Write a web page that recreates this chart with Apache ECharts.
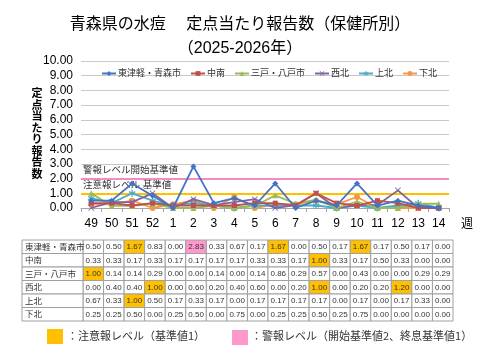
<!DOCTYPE html>
<html><head><meta charset="utf-8">
<script src="https://cdn.jsdelivr.net/npm/echarts@6/dist/echarts.min.js"></script>
<style>html,body{margin:0;padding:0;background:#fff}#c{width:480px;height:360px}</style>
</head><body><div id="c"></div>
<script>
const weeks = ['49','50','51','52','1','2','3','4','5','6','7','8','9','10','11','12','13','14'];
const regions = ['東津軽・青森市','中南','三戸・八戸市','西北','上北','下北'];
const higashi = [0.50,0.50,1.67,0.83,0.00,2.83,0.33,0.67,0.17,1.67,0.00,0.50,0.17,1.67,0.17,0.50,0.17,0.00];
const chunan  = [0.33,0.33,0.17,0.33,0.17,0.17,0.17,0.17,0.33,0.33,0.17,1.00,0.33,0.17,0.50,0.33,0.00,0.00];
const sannohe = [1.00,0.14,0.14,0.29,0.00,0.00,0.14,0.00,0.14,0.86,0.29,0.57,0.00,0.43,0.00,0.00,0.29,0.29];
const seihoku = [0.00,0.40,0.40,1.00,0.00,0.60,0.20,0.40,0.60,0.00,0.20,1.00,0.00,0.20,0.20,1.20,0.00,0.00];
const kamikita= [0.67,0.33,1.00,0.50,0.17,0.33,0.17,0.00,0.17,0.17,0.17,0.17,0.00,0.17,0.00,0.17,0.33,0.00];
const shimokita=[0.25,0.25,0.50,0.00,0.25,0.50,0.00,0.75,0.00,0.25,0.25,0.50,0.25,0.75,0.00,0.00,0.00,0.00];
const seriesValues = [higashi, chunan, sannohe, seihoku, kamikita, shimokita];
const yTicks = {min:0, max:10, interval:1};
const cautionLevel = 1, alarmLevel = 2;

const colors = ['#4472C4','#C0504D','#9BBB59','#8064A2','#4BACC6','#F79646'];
const xSym = 'path://M0,1L1,0L5,4L9,0L10,1L6,5L10,9L9,10L5,6L1,10L0,9L4,5Z';
const starSym = 'path://M4,0H6V3.6L9,1.8L10,3.5L7,5L10,6.5L9,8.2L6,6.4V10H4V6.4L1,8.2L0,6.5L3,5L0,3.5L1,1.8L4,3.6Z';
const symbols = ['diamond','rect','triangle',xSym,starSym,'circle'];
const symSizes = [6,5,6,6,7,6];
const FONT = '"Liberation Sans","Noto Sans CJK JP",sans-serif';
const CAUTION_FILL = '#FFC000', ALARM_FILL = '#FF99CC';

const chart = echarts.init(document.getElementById('c'), null, {renderer:'canvas'});

const lineSeries = regions.map((name,i)=>({
  name, type:'line', xAxisIndex:0, yAxisIndex:0, data: seriesValues[i],
  symbol: symbols[i], symbolSize: symSizes[i], showSymbol:true,
  lineStyle:{width:1.8, color:colors[i]}, itemStyle:{color:colors[i]},
  z: 10 - i,
  markLine: i===0 ? {
    silent:true, symbol:'none',
    data:[
      {yAxis:alarmLevel, lineStyle:{color:'#F48CC4', width:2, type:'solid'},
       label:{show:true, position:'insideStartTop', formatter:'警報レベル開始基準値', color:'#333', fontSize:9.5, fontFamily:FONT, distance:[2,3]}},
      {yAxis:cautionLevel, lineStyle:{color:'#FFC000', width:2, type:'solid'},
       label:{show:true, position:'insideStartTop', formatter:'注意報レベル 基準値', color:'#333', fontSize:9.5, fontFamily:FONT, distance:[2,3]}}
    ]
  } : undefined
}));

const tableData = [];
regions.forEach((r,ri)=>seriesValues[ri].forEach((v,ci)=>tableData.push([ci,ri,v])));
const nameData = regions.map((r,ri)=>[0,ri,r]);
const NAME_COL_W = 61;

function cellFill(v){ return v>=alarmLevel ? ALARM_FILL : (v>=cautionLevel ? CAUTION_FILL : '#fff'); }

const option = {
  backgroundColor:'#fff',
  animation:false,
  title:{text:'青森県の水痘　 定点当たり報告数（保健所別）\n（2025-2026年）', left:'center', top:8,
    textStyle:{fontFamily:FONT, fontSize:16, fontWeight:'normal', color:'#000', lineHeight:24}},
  legend:{top:64, left:96, itemWidth:14, itemHeight:6, itemGap:9,
    textStyle:{fontFamily:FONT, fontSize:9, color:'#333', padding:[0,0,0,-3]},
    data: regions},
  grid:[{left:81, right:31, top:61, height:147},
        {left:83, right:27, top:240, height:81}],
  xAxis:[
    {type:'category', gridIndex:0, data:weeks, boundaryGap:true,
     axisLine:{lineStyle:{color:'#A6A6A6'}}, axisTick:{show:true, length:4, lineStyle:{color:'#A6A6A6'}},
     axisLabel:{color:'#000', fontSize:12, fontFamily:FONT, margin:10},
     name:'週', nameLocation:'end', nameGap:12, nameMoveOverlap:false,
     nameTextStyle:{color:'#000', fontSize:12, fontFamily:FONT, verticalAlign:'top', padding:[11,0,0,0]}},
    {type:'category', gridIndex:1, data:weeks, show:false}
  ],
  yAxis:[
    {type:'value', gridIndex:0, min:yTicks.min, max:yTicks.max, interval:yTicks.interval,
     axisLine:{show:false}, axisTick:{show:false},
     splitLine:{lineStyle:{color:'#C8C8C8', width:1}},
     axisLabel:{color:'#000', fontSize:12, fontFamily:FONT, margin:8, formatter:v=>v.toFixed(2)},
     name:'定点当たり報告数'.split('').join('\n'), nameLocation:'middle', nameRotate:0, nameGap:44, nameMoveOverlap:false,
     nameTextStyle:{color:'#000', fontSize:11, fontWeight:'bold', fontFamily:FONT, lineHeight:11.5, align:'center'}},
    {type:'category', gridIndex:1, data:regions, inverse:true, show:false}
  ],
  series:[
    ...lineSeries,
    {type:'custom', xAxisIndex:1, yAxisIndex:1, data:tableData, clip:false, silent:true,
     renderItem:(params, api)=>{
       const p = api.coord([api.value(0), api.value(1)]);
       const s = api.size([1,1]);
       const v = api.value(2);
       return {type:'group', children:[
         {type:'rect', shape:{x:p[0]-s[0]/2, y:p[1]-s[1]/2, width:s[0], height:s[1]},
          style:{fill:cellFill(v), stroke:'#A0A0A0', lineWidth:1}},
         {type:'text', style:{text:v.toFixed(2), x:p[0], y:p[1]+0.5, textAlign:'center', textVerticalAlign:'middle',
          font:'8px "Liberation Sans",sans-serif', fill:'#333'}}
       ]};
     }},
    {type:'custom', xAxisIndex:1, yAxisIndex:1, data:nameData, clip:false, silent:true,
     renderItem:(params, api)=>{
       const p = api.coord([api.value(0), api.value(1)]);
       const s = api.size([1,1]);
       const x0 = p[0]-s[0]/2-NAME_COL_W;
       return {type:'group', children:[
         {type:'rect', shape:{x:x0, y:p[1]-s[1]/2, width:NAME_COL_W, height:s[1]},
          style:{fill:'#fff', stroke:'#A0A0A0', lineWidth:1}},
         {type:'text', style:{text:regions[params.dataIndex], x:x0+3, y:p[1], textAlign:'left', textVerticalAlign:'middle',
          font:'8.5px "Noto Sans CJK JP",sans-serif', fill:'#333'}}
       ]};
     }}
  ],
  graphic:[
    {type:'rect', left:47, top:329, shape:{width:16, height:15}, style:{fill:CAUTION_FILL}},
    {type:'text', left:67, top:330, style:{text:'：注意報レベル（基準値1）', font:'11px "Noto Sans CJK JP",sans-serif', fill:'#333'}},
    {type:'rect', left:232, top:330, shape:{width:16, height:15}, style:{fill:ALARM_FILL}},
    {type:'text', left:251, top:330, style:{text:'：警報レベル（開始基準値2、終息基準値1）', font:'11px "Noto Sans CJK JP",sans-serif', fill:'#333'}}
  ]
};
chart.setOption(option);
</script></body></html>
